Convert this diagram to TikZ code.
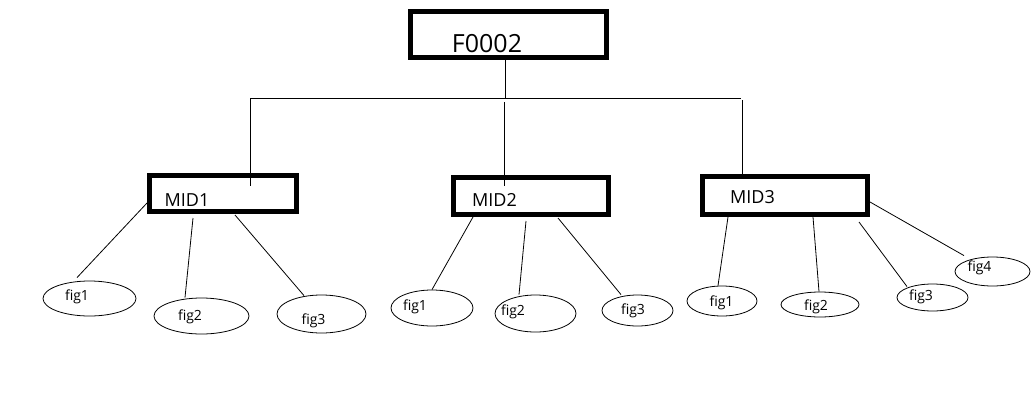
\documentclass[tikz,border=0pt]{standalone}
\usepackage{fontspec}
\setmainfont{Open Sans}
\usetikzlibrary{calc}
\usetikzlibrary{positioning}
\usetikzlibrary{shapes}

\begin{document}
\begin{tikzpicture}[x=1pt,y=-1pt]
        \tikzset{top_box/.style = {draw,line width=5pt,inner sep=0pt,minimum width=196pt,minimum height=46pt}}
        \tikzset{mid_box/.style = {draw,line width=5pt,inner sep=0pt}}
        \tikzset{fig_node/.style = {draw,ellipse,line width=0.8pt,inner sep=0pt}}
        \tikzset{top_text/.style = {font=\fontsize{25}{30}\selectfont,anchor=base,inner sep=0pt}}
        \tikzset{mid_text/.style = {font=\fontsize{18}{22}\selectfont,anchor=base,inner sep=0pt}}
        \tikzset{fig_text/.style = {font=\fontsize{14}{17}\selectfont,inner sep=0pt}}
        \tikzset{tree_edge/.style = {-,line width=0.8pt,color=black}}

        \useasboundingbox (0,0) rectangle (1032,407);

        % boxes
        \node[top_box] (f0002) at (508.5,34.5) {};
        \node[top_text] (f0002_label) at (487,52) {F0002};
        \node[mid_box,minimum width=147pt,minimum height=36pt] (mid1) at (223,193.5) {};
        \node[mid_text] (mid1_label) at (187,206) {MID1};
        \node[mid_box,minimum width=155pt,minimum height=37pt] (mid2) at (531,196) {};
        \node[mid_text] (mid2_label) at (494.5,206) {MID2};
        \node[mid_box,minimum width=165pt,minimum height=38pt] (mid3) at (785,195.5) {};
        \node[mid_text] (mid3_label) at (752.5,203) {MID3};

        % figures
        \node[fig_node,minimum width=93pt,minimum height=35pt] (m1f1) at (89.5,298.5) {};
        \node[fig_text] (m1f1_label) at (77,297) {fig1};
        \node[fig_node,minimum width=95pt,minimum height=36pt] (m1f2) at (201.5,316) {};
        \node[fig_text] (m1f2_label) at (190,317) {fig2};
        \node[fig_node,minimum width=89pt,minimum height=38pt] (m1f3) at (321.5,314) {};
        \node[fig_text] (m1f3_label) at (313.5,321) {fig3};
        \node[fig_node,minimum width=82pt,minimum height=36pt] (m2f1) at (432,308) {};
        \node[fig_text] (m2f1_label) at (415,307) {fig1};
        \node[fig_node,minimum width=81pt,minimum height=37pt] (m2f2) at (535.5,313.5) {};
        \node[fig_text] (m2f2_label) at (513,312) {fig2};
        \node[fig_node,minimum width=71pt,minimum height=31pt] (m2f3) at (637.5,310.5) {};
        \node[fig_text] (m2f3_label) at (633,311) {fig3};
        \node[fig_node,minimum width=70pt,minimum height=30pt] (m3f1) at (722,301) {};
        \node[fig_text] (m3f1_label) at (721.5,303) {fig1};
        \node[fig_node,minimum width=78pt,minimum height=25pt] (m3f2) at (820,304.5) {};
        \node[fig_text] (m3f2_label) at (816,307) {fig2};
        \node[fig_node,minimum width=71pt,minimum height=27pt] (m3f3) at (932.5,297.5) {};
        \node[fig_text] (m3f3_label) at (921,297) {fig3};
        \node[fig_node,minimum width=75pt,minimum height=29pt] (m3f4) at (992.5,271.5) {};
        \node[fig_text] (m3f4_label) at (979.5,268) {fig4};

        % bus
        \coordinate (bus_l) at (250,98);
        \coordinate (bus_c) at (505.5,98);
        \coordinate (bus_r) at (741,98);
        \coordinate (drop_c) at (504,102);
        \coordinate (drop_r) at (742,100);
        \draw[tree_edge] ([xshift=-3pt]f0002.south) -- (bus_c);
        \draw[tree_edge] (bus_l) -- (bus_r);
        \draw[tree_edge] (bus_l) -- ($(bus_l |- mid1.north)+(0,13)$);
        \draw[tree_edge] (drop_c) -- ($(drop_c |- mid2.north)+(0,11)$);
        \draw[tree_edge] (drop_r) -- ($(drop_r |- mid3.north)+(0,5)$);

        % mid to figures
        \draw[tree_edge] ([shift={(0,9.5)}]mid1.west) -- ([shift={(-12.5,-3)}]m1f1.north);
        \draw[tree_edge] ([shift={(-30,4)}]mid1.south) -- ([shift={(-16.5,0)}]m1f2.north);
        \draw[tree_edge] ([shift={(12,1)}]mid1.south) -- ([shift={(-17.5,1)}]m1f3.north);
        \draw[tree_edge] ([shift={(-58,0)}]mid2.south) -- (m2f1.north);
        \draw[tree_edge] ([shift={(-5,4)}]mid2.south) -- ([shift={(-16.5,0)}]m2f2.north);
        \draw[tree_edge] ([shift={(27,1)}]mid2.south) -- ([shift={(-16.5,0)}]m2f3.north);
        \draw[tree_edge] ([shift={(-57,0)}]mid3.south) -- ([shift={(-4,0)}]m3f1.north);
        \draw[tree_edge] ([shift={(28,0)}]mid3.south) -- ([shift={(-1,0)}]m3f2.north);
        \draw[tree_edge] ([shift={(74,5)}]mid3.south) -- ([shift={(-25.5,3)}]m3f3.north);
        \draw[tree_edge] ([shift={(0,6.5)}]mid3.east) -- ([shift={(-28.5,-1)}]m3f4.north);
    \end{tikzpicture}
\end{document}
